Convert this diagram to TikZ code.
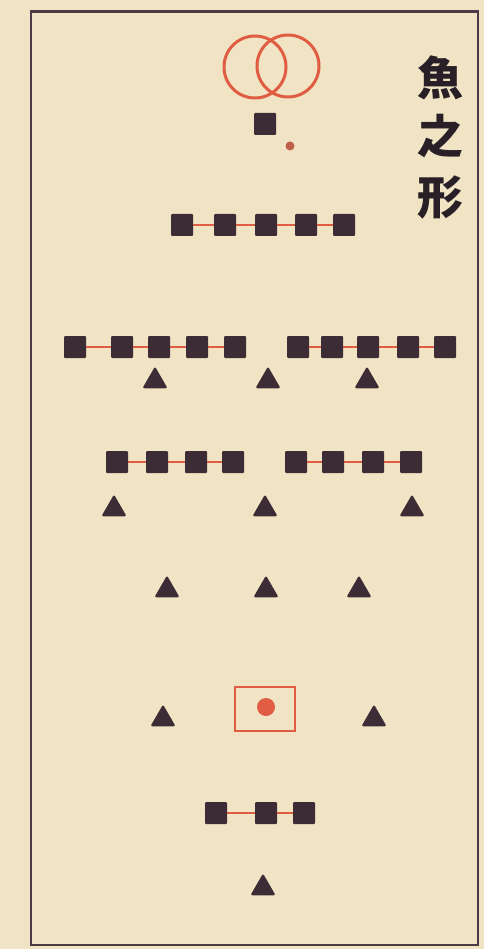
\documentclass[tikz,border=0pt]{standalone}
\usepackage{fontspec}
\newfontfamily\cjk{Noto Sans CJK JP}
\usetikzlibrary{shapes.geometric}
\definecolor{paper}{RGB}{240,228,196}
\definecolor{ink}{RGB}{60,44,54}
\definecolor{brush}{RGB}{40,32,38}
\definecolor{vermil}{RGB}{224,92,66}
\definecolor{rust}{RGB}{190,96,72}
\definecolor{framec}{RGB}{78,58,68}
\begin{document}
\begin{tikzpicture}[x=1pt,y=-1pt,
  sq/.style={fill=ink, minimum size=22pt, inner sep=0pt, rounded corners=1pt},
  tri/.style={fill=ink, regular polygon, regular polygon sides=3, minimum size=29pt, inner sep=0pt, rounded corners=2pt},
  link/.style={draw=vermil, line width=1.6pt},
  ring/.style={draw=vermil, line width=3pt},
  glyph/.style={font=\cjk\bfseries\fontsize{46}{46}\selectfont, text=brush, inner sep=0pt}]
\fill[paper] (0,0) rectangle (484,949);
\useasboundingbox (0,0) rectangle (484,949);
\draw[framec, line width=2.4pt] (31,11.5) rectangle (478,945);
% title
\node[glyph] (t1) at (440,78) {魚};
\node[glyph] (t2) at (440,136) {之};
\node[glyph] (t3) at (440,198) {形};
% rings
\node[ring, circle, minimum size=62pt, inner sep=0pt] (r1) at (255,67) {};
\node[ring, circle, minimum size=62pt, inner sep=0pt] (r2) at (288,66) {};
% single square and dot
\node[sq] (s0) at (265,124) {};
\node[fill=rust, circle, minimum size=9pt, inner sep=0pt] (d0) at (290,146) {};
% row 1
\node[sq] (a1) at (182,225) {};
\node[sq] (a2) at (225,225) {};
\node[sq] (a3) at (266,225) {};
\node[sq] (a4) at (306,225) {};
\node[sq] (a5) at (344,225) {};
\draw[link] (a1) -- (a2) (a2) -- (a3) (a3) -- (a4) (a4) -- (a5);
% row 2
\node[sq] (b1) at (75,347) {};
\node[sq] (b2) at (122,347) {};
\node[sq] (b3) at (159,347) {};
\node[sq] (b4) at (197,347) {};
\node[sq] (b5) at (235,347) {};
\node[sq] (b6) at (298,347) {};
\node[sq] (b7) at (332,347) {};
\node[sq] (b8) at (368,347) {};
\node[sq] (b9) at (408,347) {};
\node[sq] (b10) at (445,347) {};
\draw[link] (b1) -- (b2) (b2) -- (b3) (b3) -- (b4) (b4) -- (b5);
\draw[link] (b6) -- (b7) (b7) -- (b8) (b8) -- (b9) (b9) -- (b10);
\node[tri] (ta1) at (155,381) {};
\node[tri] (ta2) at (268,381) {};
\node[tri] (ta3) at (367,381) {};
% row 3
\node[sq] (c1) at (117,462) {};
\node[sq] (c2) at (157,462) {};
\node[sq] (c3) at (196,462) {};
\node[sq] (c4) at (233,462) {};
\node[sq] (c5) at (296,462) {};
\node[sq] (c6) at (333,462) {};
\node[sq] (c7) at (373,462) {};
\node[sq] (c8) at (411,462) {};
\draw[link] (c1) -- (c2) (c2) -- (c3) (c3) -- (c4);
\draw[link] (c5) -- (c6) (c6) -- (c7) (c7) -- (c8);
\node[tri] (tb1) at (114,509) {};
\node[tri] (tb2) at (265,509) {};
\node[tri] (tb3) at (412,509) {};
% triangles
\node[tri] (tc1) at (167,590) {};
\node[tri] (tc2) at (266,590) {};
\node[tri] (tc3) at (359,590) {};
% general
\node[tri] (td1) at (163,719) {};
\node[tri] (td2) at (374,719) {};
\node[draw=vermil, line width=2.2pt, minimum width=60pt, minimum height=44pt, inner sep=0pt] (g) at (265,709) {};
\node[fill=vermil, circle, minimum size=18pt, inner sep=0pt] (gd) at (266,707) {};
% rear
\node[sq] (e1) at (216,813) {};
\node[sq] (e2) at (266,813) {};
\node[sq] (e3) at (304,813) {};
\draw[link] (e1) -- (e2) (e2) -- (e3);
\node[tri] (te) at (263,888) {};
\end{tikzpicture}
\end{document}
